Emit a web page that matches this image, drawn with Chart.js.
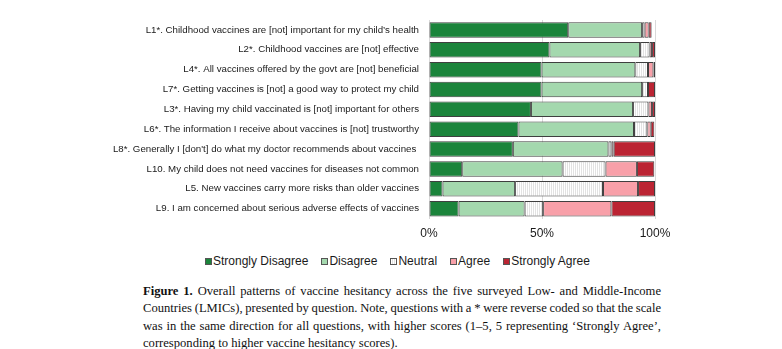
<!DOCTYPE html>
<html>
<head>
<meta charset="utf-8">
<script src="https://cdn.jsdelivr.net/npm/chart.js@4.4.1/dist/chart.umd.min.js"></script>
<style>
  html, body { margin: 0; padding: 0; background: #fff; }
  body { width: 782px; height: 349px; position: relative; overflow: hidden; }
  #wrap { position: absolute; left: 0; top: 0; width: 782px; height: 253px; }
  #legend { position: absolute; left: 205px; top: 254px; display: flex; gap: 13px;
            font: 12px "Liberation Sans", Arial, sans-serif; color: #1a1a1a; white-space: nowrap; }
  #legend .item { display: flex; align-items: center; }
  #legend .sw { width: 7px; height: 7px; box-sizing: border-box; border: 1px solid #555; margin-right: 1px; }
  #caption { position: absolute; left: 143px; top: 283px; width: 518px;
             font: 12.6px "Liberation Serif", "DejaVu Serif", serif; color: #111; line-height: 17.4px; }
  #caption .ln { white-space: nowrap; }
  #caption .ln span { display: inline-block; white-space: nowrap; }
</style>
</head>
<body>
<div id="wrap"><canvas id="c"></canvas></div>
<div id="legend"></div>
<div id="caption">
  <div class="ln" data-fill="1"><span><b>Figure 1.</b> Overall patterns of vaccine hesitancy across the five surveyed Low- and Middle-Income</span></div>
  <div class="ln" data-fill="1"><span>Countries (LMICs), presented by question. Note, questions with a * were reverse coded so that the scale</span></div>
  <div class="ln" data-fill="1"><span>was in the same direction for all questions, with higher scores (1–5, 5 representing ‘Strongly Agree’,</span></div>
  <div class="ln"><span>corresponding to higher vaccine hesitancy scores).</span></div>
</div>
<script>
// Survey items, top to bottom
const categories = [
  "L1*. Childhood vaccines are [not] important for my child’s health",
  "L2*. Childhood vaccines are [not] effective",
  "L4*. All vaccines offered by the govt are [not] beneficial",
  "L7*. Getting vaccines is [not] a good way to protect my child",
  "L3*. Having my child vaccinated is [not] important for others",
  "L6*. The information I receive about vaccines is [not] trustworthy",
  "L8*. Generally I [don't] do what my doctor recommends about vaccines ",
  "L10. My child does not need vaccines for diseases not common",
  "L5. New vaccines carry more risks than older vaccines",
  "L9. I am concerned about serious adverse effects of vaccines"
];

// Share of respondents (%) per response level
const stronglyDisagree = [61.6, 53.3, 49.8, 49.8, 45.1, 39.6, 37.1, 14.7, 6.0, 13.1];
const disagree         = [32.7, 40.1, 41.5, 44.5, 45.2, 51.1, 42.3, 44.4, 32.1, 29.2];
const neutral          = [1.1, 4.2, 5.6, 2.6, 6.8, 5.9, 1.3, 19.0, 38.9, 8.2];
const agree            = [1.8, 1.1, 2.4, 0.0, 1.6, 1.5, 1.0, 13.9, 15.5, 30.2];
const stronglyAgree    = [1.3, 1.3, 0.7, 3.1, 1.3, 1.6, 18.3, 7.7, 7.5, 19.3];

const seriesNames = ["Strongly Disagree", "Disagree", "Neutral", "Agree", "Strongly Agree"];
const xTicks = [0, 50, 100];

// Fine vertical hatching for the neutral segment
function hatchPattern() {
  const c = document.createElement('canvas');
  c.width = 2; c.height = 1;
  const g = c.getContext('2d');
  g.fillStyle = '#ffffff'; g.fillRect(0, 0, 2, 1);
  g.fillStyle = '#e2e2e2'; g.fillRect(1, 0, 1, 1);
  return g.createPattern(c, 'repeat');
}

const fills = ['#1b843b', '#a4d8ae', hatchPattern(), '#f8a0a9', '#bb2433'];
const swatches = ['#1b843b', '#a4d8ae', 'repeating-linear-gradient(90deg,#fff 0 1px,#e2e2e2 1px 2px)', '#f8a0a9', '#bb2433'];
const values = [stronglyDisagree, disagree, neutral, agree, stronglyAgree];

const datasets = seriesNames.map((name, i) => ({
  label: name,
  data: values[i],
  backgroundColor: fills[i],
  borderColor: '#3f3f3f',
  borderWidth: 1,
  borderSkipped: false,
  categoryPercentage: 1.0,
  barPercentage: 0.78
}));

new Chart(document.getElementById('c'), {
  type: 'bar',
  data: { labels: categories, datasets },
  options: {
    indexAxis: 'y',
    responsive: true,
    maintainAspectRatio: false,
    animation: false,
    layout: { padding: { top: 20, right: 127, bottom: 4, left: 0 } },
    plugins: { legend: { display: false }, tooltip: { enabled: false } },
    scales: {
      x: {
        stacked: true,
        min: 0, max: 100,
        afterBuildTicks: (s) => { s.ticks = xTicks.map(v => ({ value: v })); },
        grid: { color: '#d9d9d9', drawTicks: false, lineWidth: 1 },
        border: { display: false },
        ticks: {
          padding: 8,
          color: '#1a1a1a',
          font: { family: '"Liberation Sans", Arial, sans-serif', size: 12 },
          callback: (v) => v + '%'
        }
      },
      y: {
        stacked: true,
        afterFit: (s) => { s.width = 429; },
        grid: { display: false, drawTicks: false },
        border: { display: false },
        ticks: {
          padding: 10,
          color: '#1a1a1a',
          autoSkip: false,
          font: { family: '"Liberation Sans", Arial, sans-serif', size: 9.7 }
        }
      }
    }
  }
});

// Legend built from the same series definitions
const lg = document.getElementById('legend');
seriesNames.forEach((name, i) => {
  const it = document.createElement('div'); it.className = 'item';
  const sw = document.createElement('span'); sw.className = 'sw'; sw.style.background = swatches[i];
  const tx = document.createElement('span'); tx.textContent = name;
  it.appendChild(sw); it.appendChild(tx); lg.appendChild(it);
});

// Justify the full caption lines by spreading the word gaps
document.querySelectorAll('#caption .ln[data-fill] span').forEach(sp => {
  const gaps = (sp.textContent.match(/ /g) || []).length;
  const w = sp.getBoundingClientRect().width;
  if (gaps) sp.style.wordSpacing = ((518 - w) / gaps) + 'px';
});
</script>
</body>
</html>
